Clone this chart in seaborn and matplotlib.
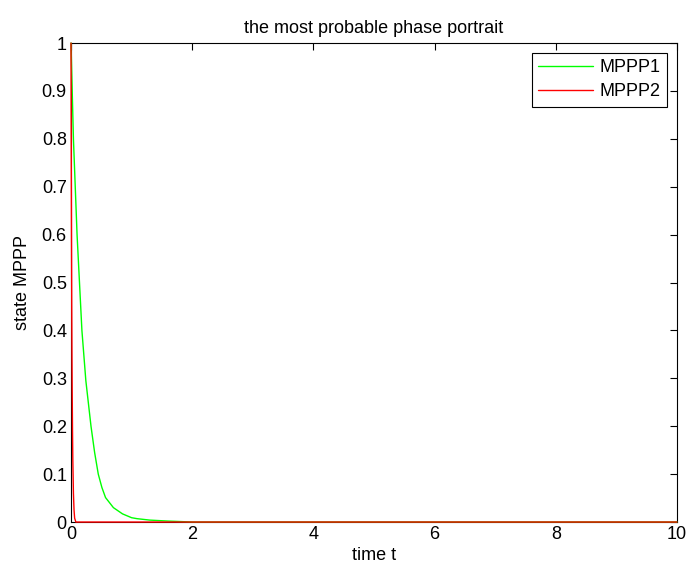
import numpy as np
import pandas as pd
import matplotlib
matplotlib.use("Agg")
import matplotlib.pyplot as plt
import seaborn as sns

# values
t1 = [0, 0.01, 0.02, 0.04, 0.07, 0.10, 0.14, 0.18, 0.245, 0.33, 0.39, 0.45, 0.51,
      0.57, 0.70, 0.85, 1.00, 1.09, 1.30, 1.60, 2.0, 10.0]
mppp1 = [1.0, 0.95, 0.90, 0.80, 0.70, 0.60, 0.50, 0.40, 0.295, 0.20, 0.145, 0.10, 0.072,
         0.051, 0.03, 0.017, 0.009, 0.007, 0.004, 0.002, 0.0, 0.0]

t2 = [0, 0.004, 0.008, 0.012, 0.016, 0.02, 0.025, 0.03, 0.04, 0.05, 0.06, 0.08, 10.0]
mppp2 = [1.0, 0.78, 0.60, 0.46, 0.35, 0.27, 0.19, 0.13, 0.06, 0.025, 0.008, 0.0, 0.0]

df = pd.concat([
    pd.DataFrame({"t": t1, "v": mppp1, "series": "MPPP1"}),
    pd.DataFrame({"t": t2, "v": mppp2, "series": "MPPP2"}),
])

sns.set_style("white")
plt.rcParams["font.family"] = ["Liberation Sans", "DejaVu Sans"]
plt.rcParams["font.size"] = 13
plt.rcParams["text.color"] = "black"
plt.rcParams["axes.labelcolor"] = "black"

fig = plt.figure(figsize=(6.88, 5.66), dpi=100)
ax = fig.add_axes([0.1032, 0.0777, 0.8808, 0.8463])

sns.lineplot(data=df, x="t", y="v", hue="series", estimator=None, sort=False,
             palette={"MPPP1": "#00ff00", "MPPP2": "#ff0000"}, linewidth=1.0,
             zorder=3, clip_on=False, ax=ax)

ax.set_xlim(0, 10)
ax.set_ylim(0, 1)
ax.set_xticks(np.arange(0, 11, 2))
ax.set_yticks(np.round(np.arange(0, 1.01, 0.1), 1))
ax.set_yticklabels(["0"] + [f"{v:.1f}" for v in np.arange(0.1, 0.95, 0.1)] + ["1"])
ax.tick_params(direction="in", length=5, width=0.8, top=True, right=True,
               labelsize=13, colors="black", pad=3)
for s in ax.spines.values():
    s.set_color("black")
    s.set_linewidth(0.8)

ax.set_xlabel("time t", fontsize=13, labelpad=3)
ax.set_ylabel("state MPPP", fontsize=13, labelpad=8)
ax.set_title("the most probable phase portrait", fontsize=13, pad=7)

leg = ax.legend(loc="upper right", fontsize=13, frameon=True, fancybox=False,
                borderaxespad=0.55, handlelength=3.0, handletextpad=0.4,
                labelspacing=0.4, borderpad=0.35)
leg.get_frame().set_edgecolor("black")
leg.get_frame().set_linewidth(0.8)
leg.get_frame().set_alpha(1)
for txt in leg.get_texts():
    txt.set_color("black")

fig.savefig("out.png", dpi=100)
